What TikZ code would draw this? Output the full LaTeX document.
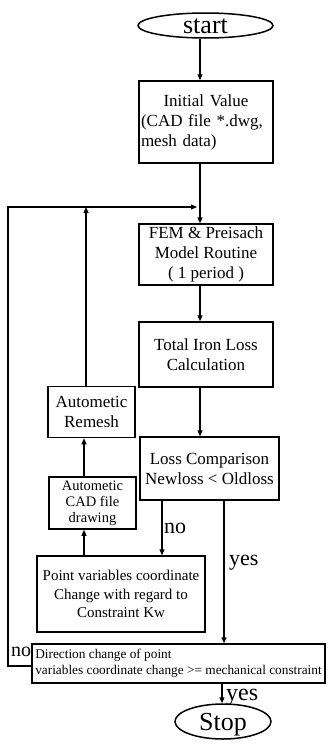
\documentclass[tikz,border=0pt]{standalone}
\usepackage{fontspec}
\setmainfont{Liberation Serif}
\usetikzlibrary{shapes.geometric,arrows.meta,calc}
\begin{document}
\begin{tikzpicture}[x=1pt,y=-1pt,
  box/.style={draw,line width=1.5pt,inner sep=0pt,align=center,font=\fontsize{17}{20}\selectfont},
  term/.style={draw,ellipse,line width=1.5pt,inner sep=0pt,font=\fontsize{26}{28}\selectfont,text height=15pt,text depth=0pt},
  arr/.style={line width=1.2pt,-{Triangle[length=6pt,width=5pt]}},
  lab/.style={inner sep=0pt,anchor=base west,font=\fontsize{22}{24}\selectfont}]
\useasboundingbox (0,0) rectangle (327,744);
\node[term,minimum width=135pt,minimum height=25pt] (start) at (205.5,25.5) {start};
\node[box,minimum width=134pt,minimum height=82pt,text width=130pt,align=left] (init) at (206,122) {\makebox[\linewidth]{Initial Value}\\(CAD file *.dwg,\\mesh data)};
\node[box,minimum width=134pt,minimum height=61pt] (fem) at (206,254.5) {FEM \& Preisach\\Model Routine\\( 1 period )};
\node[box,minimum width=134pt,minimum height=65pt] (total) at (206,354.5) {Total Iron Loss\\Calculation};
\node[box,minimum width=139pt,minimum height=63pt] (loss) at (209.5,468.5) {Loss Comparison\\Newloss < Oldloss};
\node[box,minimum width=87pt,minimum height=51pt] (remesh) at (91.5,412) {Autometic\\Remesh};
\node[box,minimum width=87pt,minimum height=52pt,font=\fontsize{14.5}{16}\selectfont] (cad) at (92.5,503) {Autometic\\CAD file\\drawing};
\node[box,minimum width=168pt,minimum height=76pt,font=\fontsize{15}{18.5}\selectfont] (point) at (121,594) {Point variables coordinate\\Change with regard to\\Constraint Kw};
\node[box,minimum width=293pt,minimum height=39pt,align=left,font=\fontsize{13.3}{16}\selectfont] (dir) at (178.5,663.5) {Direction change of point\\variables coordinate change >= mechanical constraint};
\node[term,minimum width=96pt,minimum height=35pt,text height=18pt] (stop) at (223,721.5) {Stop};
\coordinate (j) at (200,207);
\coordinate (jl) at (197,207);
\coordinate (c1) at (8,666);
\coordinate (r) at (86,207);
\coordinate (n) at (162,0);
\coordinate (p) at (84,0);
\coordinate (y1) at (224,0);
\coordinate (y2) at (222,0);
\draw[arr] (start.south -| j) -- (init.north -| j);
\draw[arr] (init.south -| j) -- (fem.north -| j);
\draw[arr] (fem.south -| j) -- (total.north -| j);
\draw[arr] (total.south -| j) -- (loss.north -| j);
\draw[arr] (dir.west |- c1) -- (c1) |- (jl);
\draw[arr] (remesh.north -| r) -- (r);
\draw[arr] (loss.south -| n) -- (point.north -| n);
\draw[arr] (point.north -| p) -- (cad.south -| p);
\draw[arr] (cad.north -| p) -- (remesh.south -| p);
\draw[arr] (loss.south -| y1) -- (dir.north -| y1);
\draw[arr] (dir.south -| y2) -- (stop.north -| y2);
\node[lab] (lno) at (164,533) {no};
\node[lab] (lyes) at (229,565) {yes};
\node[lab,font=\fontsize{24}{26}\selectfont] (lyes2) at (226,700) {yes};
\node[lab,font=\fontsize{20}{22}\selectfont] (lno2) at (11,656) {no};
\end{tikzpicture}
\end{document}
